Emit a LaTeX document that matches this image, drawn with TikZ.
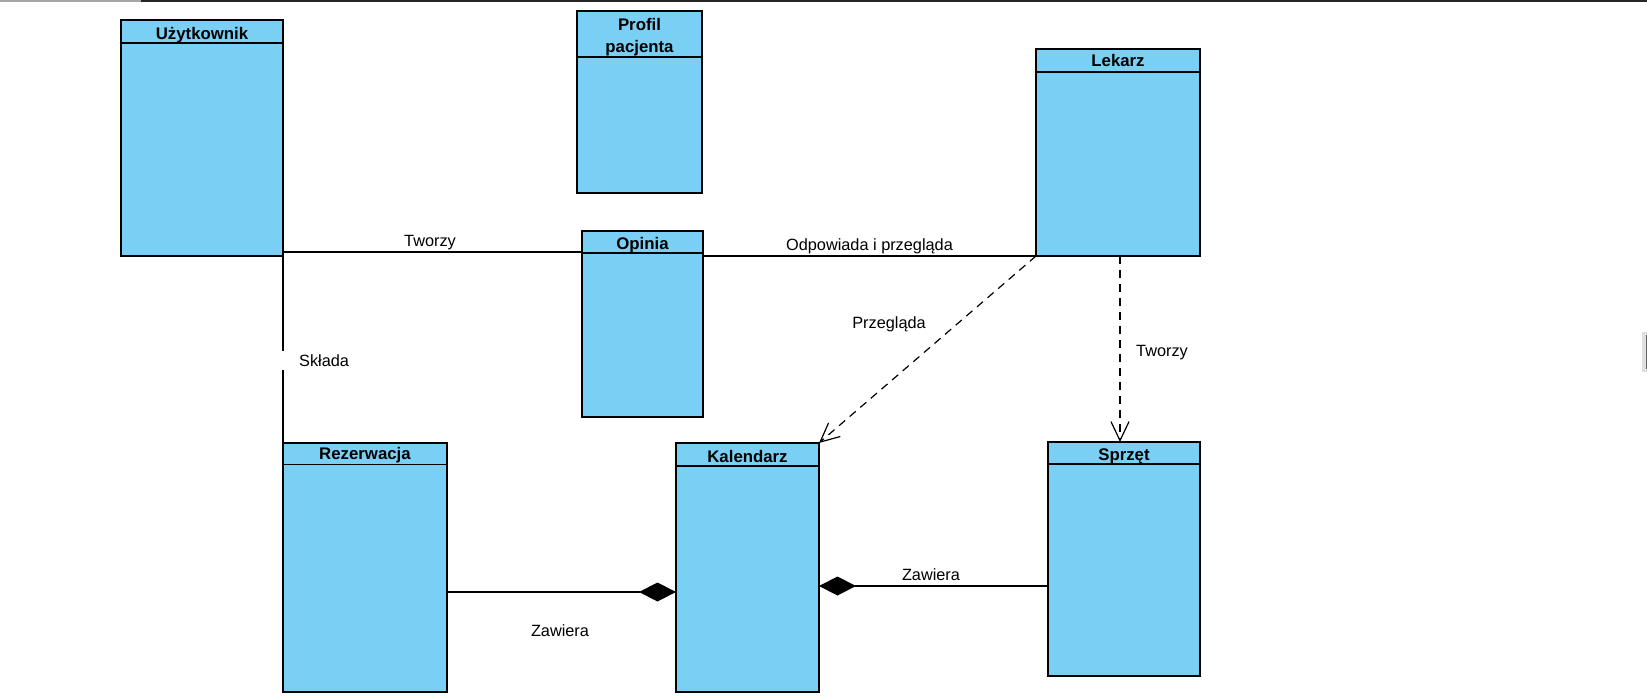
\documentclass[tikz,border=0pt]{standalone}
\usepackage{fontspec}
\setmainfont{Liberation Sans}
\usetikzlibrary{arrows.meta,calc}
\definecolor{clsblue}{RGB}{122,207,245}
\tikzset{
  cls/.style={draw=black, fill=clsblue, line width=1.3pt, rectangle, inner sep=0pt, outer sep=0pt, anchor=north west},
  hdr/.style={font=\fontsize{16.8}{21.7}\selectfont\bfseries, inner sep=0pt, align=center, anchor=base},
  lbl/.style={font=\fontsize{16.3}{19}\selectfont, inner sep=1pt, anchor=base},
  conn/.style={draw=black, line width=1.2pt},
  dep/.style={conn, dash pattern=on 8pt off 6pt, -{Straight Barb[length=19pt,width=18pt,line width=1.2pt]}},
  comp/.style={conn, -{Diamond[length=37pt,width=19pt,fill=black]}},
  divl/.style={draw=black, line width=1.3pt}
}
\begin{document}
\begin{tikzpicture}[x=1pt,y=-1pt]
\useasboundingbox (0,0) rectangle (1647,696);
% top border lines
\draw[gray!70, line width=1.5pt] (0,1) -- (141,1);
\draw[black!85, line width=1.5pt] (141,1) -- (1647,1);
% right edge artifact
\fill[gray!25] (1642,332) rectangle (1647,372);
\draw[gray!80!black, line width=1pt] (1646,335) -- (1646,369);

% classes
\node[cls, minimum width=162pt, minimum height=236pt] (uz) at (121,20) {};
\draw[divl] ($(uz.north west)+(0,23)$) -- ($(uz.north east)+(0,23)$);
\node[hdr] (uzh) at ($(uz.north)+(0,19.3)$) {Użytkownik};

\node[cls, minimum width=125pt, minimum height=182pt] (pp) at (577,11) {};
\draw[divl] ($(pp.north west)+(0,46)$) -- ($(pp.north east)+(0,46)$);
\node[hdr, anchor=north] (pph) at ($(pp.north)+(0,7)$) {Profil\\pacjenta};

\node[cls, minimum width=164pt, minimum height=207pt] (lek) at (1036,49) {};
\draw[divl] ($(lek.north west)+(0,23)$) -- ($(lek.north east)+(0,23)$);
\node[hdr] (lekh) at ($(lek.north)+(0,17.7)$) {Lekarz};

\node[cls, minimum width=121pt, minimum height=186pt] (op) at (582,231) {};
\draw[divl] ($(op.north west)+(0,22)$) -- ($(op.north east)+(0,22)$);
\node[hdr] (oph) at ($(op.north)+(0,18)$) {Opinia};

\node[cls, minimum width=164pt, minimum height=249pt] (rz) at (283,443) {};
\draw[divl] ($(rz.north west)+(0,21.5)$) -- ($(rz.north east)+(0,21.5)$);
\node[hdr] (rzh) at ($(rz.north)+(0,16.5)$) {Rezerwacja};

\node[cls, minimum width=143pt, minimum height=249pt] (kal) at (676,443) {};
\draw[divl] ($(kal.north west)+(0,23)$) -- ($(kal.north east)+(0,23)$);
\node[hdr] (kalh) at ($(kal.north)+(0,19)$) {Kalendarz};

\node[cls, minimum width=152pt, minimum height=234pt] (sp) at (1048,442) {};
\draw[divl] ($(sp.north west)+(0,22)$) -- ($(sp.north east)+(0,22)$);
\node[hdr] (sph) at ($(sp.north)+(0,18)$) {Sprzęt};

% connectors
\draw[conn] ($(uz.north east)+(0,232)$) -- ($(op.north west)+(0,21)$);
\draw[conn] ($(op.north east)+(0,25)$) -- (lek.south west);
\draw[conn] (uz.south east) -- (rz.north west);
\draw[comp] ($(rz.north east)+(0,149)$) -- ($(kal.north west)+(0,149)$);
\draw[comp] ($(sp.north west)+(0,144)$) -- ($(kal.north east)+(0,143)$);
\draw[dep] (lek.south west) -- (kal.north east);
\coordinate (lekt) at ($(lek.south)+(2,0)$);
\draw[dep] (lekt) -- (lekt |- sp.north);

% labels
\node[lbl] (l1) at (430,246) {Tworzy};
\node[lbl] (l2) at (869.5,250) {Odpowiada i przegląda};
\node[lbl, fill=white, anchor=base west, inner xsep=0pt, inner ysep=3.5pt] (l3) at (282,366.5) {\hspace{17pt}Składa};
\node[lbl] (l4) at (560,636) {Zawiera};
\node[lbl] (l5) at (931,580) {Zawiera};
\node[lbl] (l6) at (889,328) {Przegląda};
\node[lbl] (l7) at (1162,356.5) {Tworzy};
\end{tikzpicture}
\end{document}
